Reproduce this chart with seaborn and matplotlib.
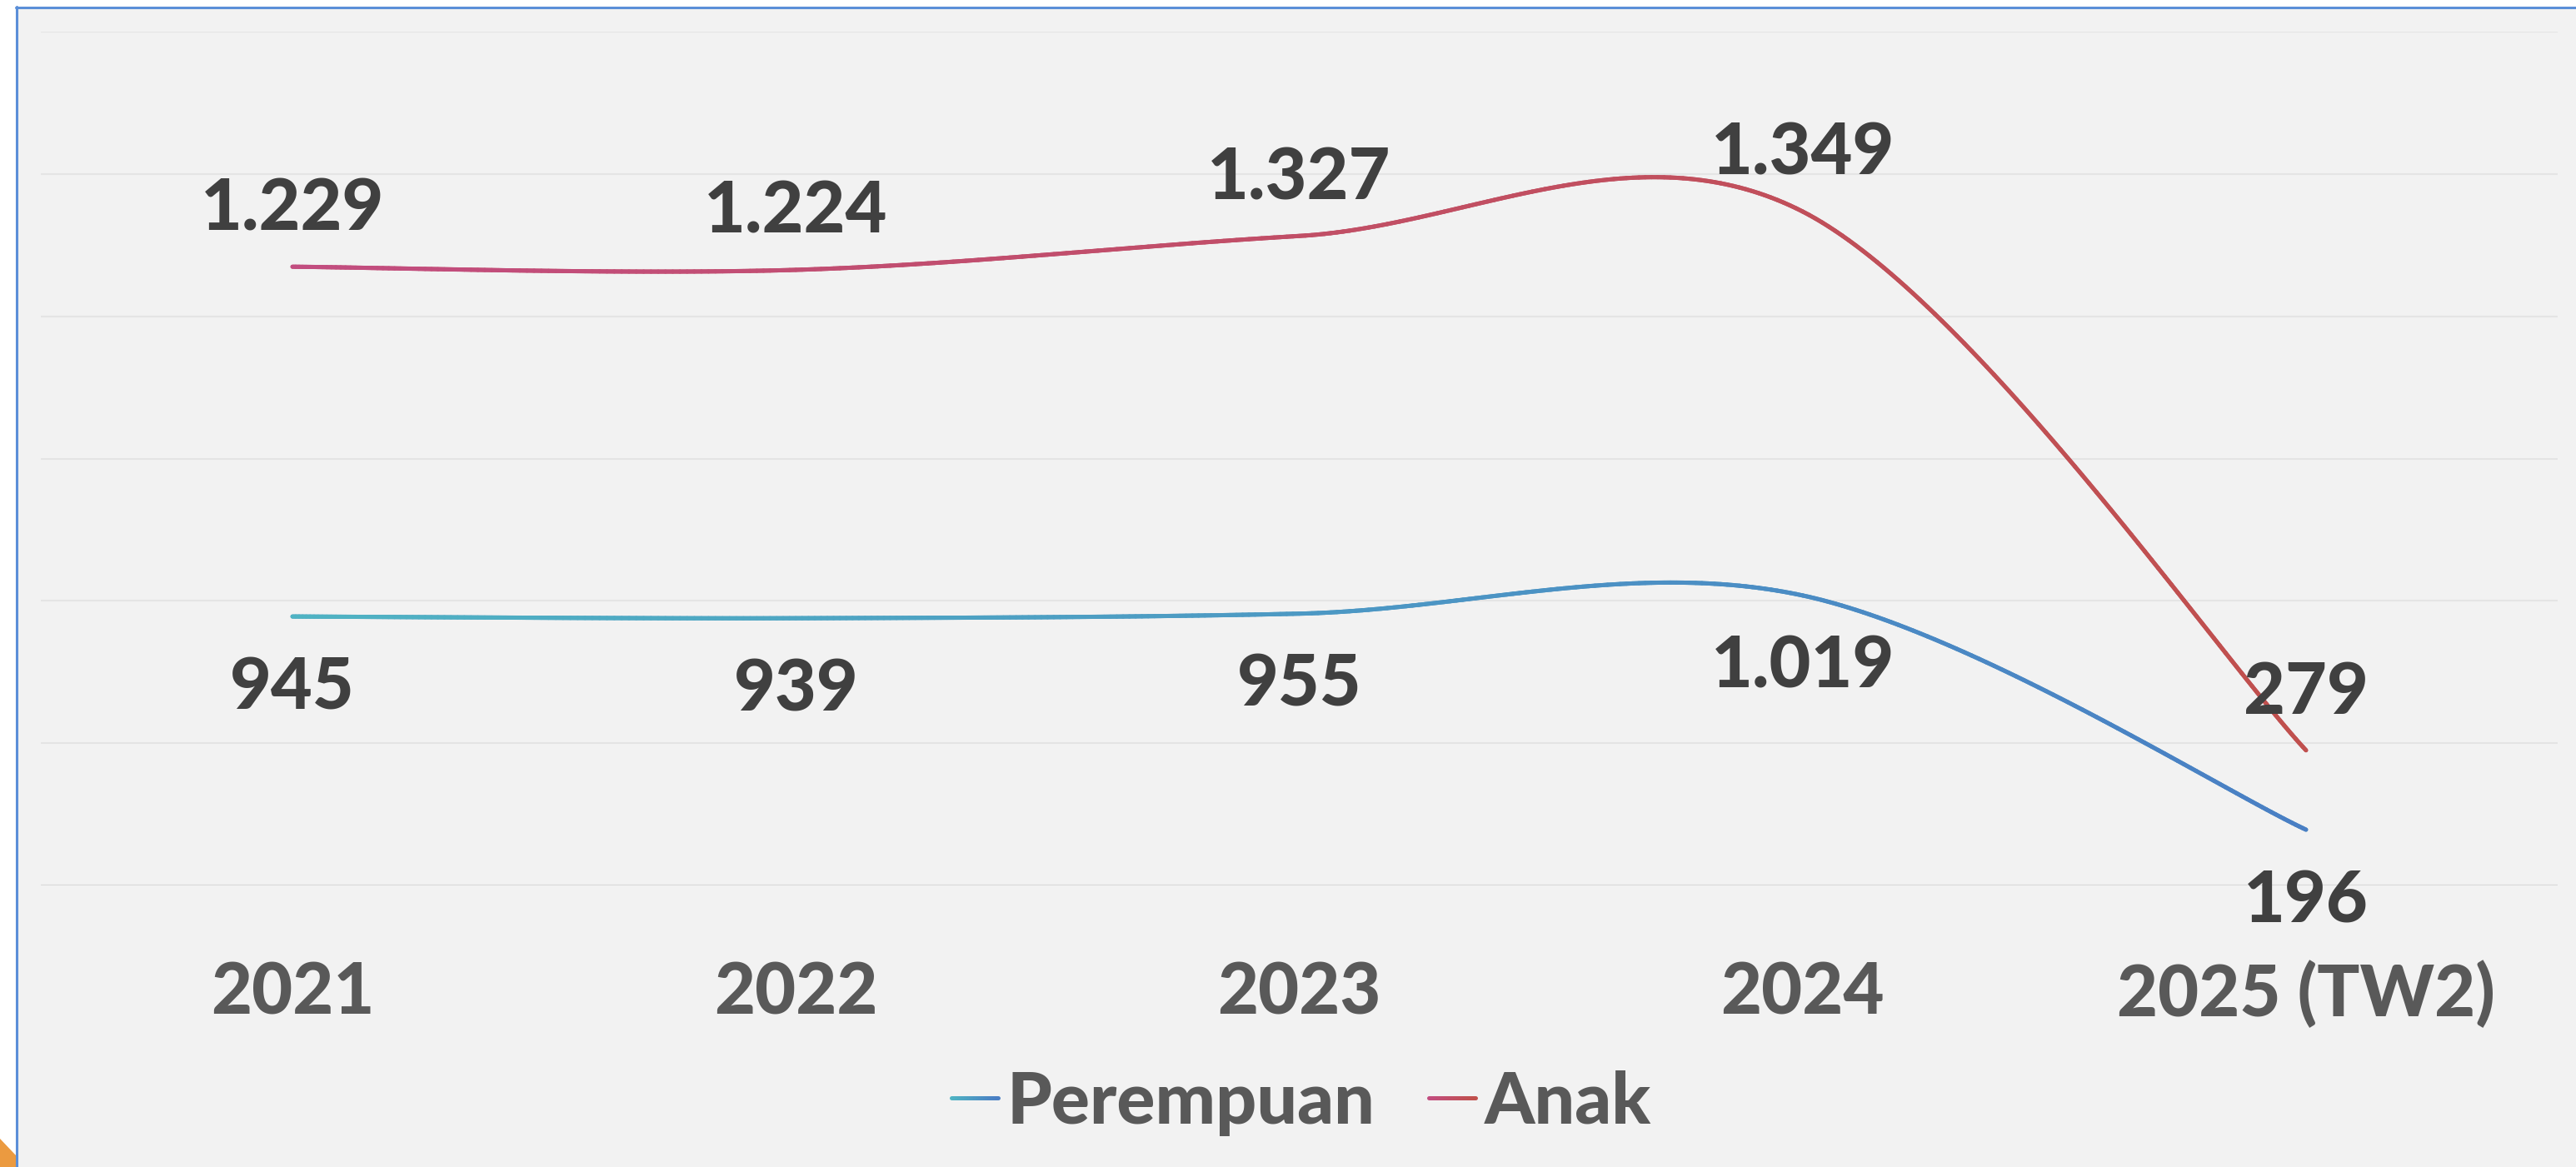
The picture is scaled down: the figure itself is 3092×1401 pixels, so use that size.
import numpy as np
import pandas as pd
import matplotlib
matplotlib.use("Agg")
import matplotlib.pyplot as plt
import seaborn as sns
from matplotlib.collections import LineCollection
from matplotlib.colors import LinearSegmentedColormap, Normalize
from matplotlib.legend_handler import HandlerBase
from matplotlib.lines import Line2D
from matplotlib.patches import Rectangle, Polygon

# data (stacked line chart, labels show the raw series values)
years = ["2021", "2022", "2023", "2024", "2025 (TW2)"]
perempuan = [945, 939, 955, 1019, 196]
anak = [1229, 1224, 1327, 1349, 279]

W, H = 3092, 1401
LW = 3.6
WEIGHT = 900
LABEL_COLOR = "#404040"
AXIS_TEXT = "#595959"

cmap_p = LinearSegmentedColormap.from_list("perempuan", ["#4fb3c3", "#4a7fc4"])
cmap_a = LinearSegmentedColormap.from_list("anak", ["#c24d80", "#c0504d"])


def smooth(y, steps=80):
    # excel style smoothed line: cubic bezier with catmull-rom control points
    pts = np.column_stack([np.arange(len(y), dtype=float), np.asarray(y, float)])
    pad = np.vstack([pts[0], pts, pts[-1]])
    out = []
    for i in range(len(pts) - 1):
        p0, p1, p2, p3 = pad[i], pad[i + 1], pad[i + 2], pad[i + 3]
        c1 = p1 + (p2 - p0) / 6
        c2 = p2 - (p3 - p1) / 6
        t = np.linspace(0, 1, steps, endpoint=(i == len(pts) - 2))[:, None]
        out.append((1 - t) ** 3 * p1 + 3 * (1 - t) ** 2 * t * c1 + 3 * (1 - t) * t ** 2 * c2 + t ** 3 * p2)
    return np.vstack(out)


class GradientHandler(HandlerBase):
    def create_artists(self, legend, orig_handle, xdescent, ydescent, width, height, fontsize, trans):
        n = 20
        xs = np.linspace(-xdescent, width - xdescent, n + 1)
        yy = height / 2 - ydescent
        segs = [[(xs[i], yy), (xs[i + 1], yy)] for i in range(n)]
        lc = LineCollection(segs, cmap=orig_handle.get_cmap(), linewidths=LW,
                            capstyle="round", transform=trans)
        lc.set_array(np.linspace(0, 1, n))
        return [lc]


sns.set_theme(style="white")
plt.rcParams["font.family"] = ["Lato", "DejaVu Sans"]

top_anak = [p + a for p, a in zip(perempuan, anak)]
curve_p = smooth(perempuan)
curve_a = smooth(top_anak)
curves = pd.concat([
    pd.DataFrame({"x": curve_p[:, 0], "y": curve_p[:, 1], "series": "Perempuan"}),
    pd.DataFrame({"x": curve_a[:, 0], "y": curve_a[:, 1], "series": "Anak"}),
])

fig = plt.figure(figsize=(W / 100, H / 100), dpi=100, facecolor="white")

# slide frame behind the chart
fig.add_artist(Rectangle((20 / W, 0), 1 - 20 / W, 1 - 8 / H, transform=fig.transFigure,
                         facecolor="#f2f2f2", edgecolor="none", zorder=-10))
fig.add_artist(Line2D([19 / W, 1], [1 - 8.5 / H, 1 - 8.5 / H], transform=fig.transFigure,
                      color="#5b8fd8", lw=2.2))
fig.add_artist(Line2D([20 / W, 20 / W], [0, 1 - 8 / H], transform=fig.transFigure,
                      color="#5b8fd8", lw=2.2))
fig.add_artist(Polygon([(0, 1 - 1367 / H), (19 / W, 1 - 1387 / H), (19 / W, 0), (0, 0)],
                       closed=True, transform=fig.transFigure, facecolor="#eb9a40",
                       edgecolor="none"))

ax = fig.add_axes([49 / W, 1 - 1063 / H, 3021 / W, 1025 / H])
ax.set_facecolor("none")

sns.lineplot(data=curves, x="x", y="y", hue="series", sort=False, estimator=None,
             palette={"Perempuan": "#4d97c2", "Anak": "#c14f66"}, lw=LW, legend=False, ax=ax)

handles = []
for crv, cmap in [(curve_p, cmap_p), (curve_a, cmap_a)]:
    segs = np.stack([crv[:-1], crv[1:]], axis=1)
    lc = LineCollection(segs, cmap=cmap, norm=Normalize(0, len(years) - 1),
                        linewidths=LW, capstyle="round", zorder=3)
    lc.set_array((crv[:-1, 0] + crv[1:, 0]) / 2)
    ax.add_collection(lc)
    handles.append(lc)

# value labels
for i in range(len(years)):
    ax.annotate(f"{anak[i]:,}".replace(",", "."), (i, top_anak[i]), xytext=(0, 31.7),
                textcoords="offset points", ha="center", va="baseline", fontsize=62,
                fontweight=WEIGHT, color=LABEL_COLOR, zorder=5)
    ax.annotate(f"{perempuan[i]:,}".replace(",", "."), (i, perempuan[i]), xytext=(0, -80),
                textcoords="offset points", ha="center", va="baseline", fontsize=62,
                fontweight=WEIGHT, color=LABEL_COLOR, zorder=5)

ax.set_xlim(-0.5, len(years) - 0.5)
ax.set_ylim(0, 3000)
ax.set_yticks(range(0, 3001, 500))
ax.set_yticklabels([])
ax.yaxis.grid(True, color="#e4e4e4", lw=1.5)
ax.axhline(0, color="#d9d9d9", lw=1.5, zorder=1)
ax.set_xticks(range(len(years)))
ax.set_xticklabels(years, fontsize=61, fontweight=WEIGHT, color=AXIS_TEXT)
ax.tick_params(axis="both", length=0)
ax.tick_params(axis="x", pad=65)
ax.set_xlabel("")
ax.set_ylabel("")
sns.despine(ax=ax, left=True, bottom=True)

fig.legend(handles=handles, labels=["Perempuan", "Anak"], handler_map={LineCollection: GradientHandler()},
           loc="center", bbox_to_anchor=(1562 / W, 1 - 1324 / H), ncol=2, frameon=False,
           prop={"weight": WEIGHT, "size": 62}, labelcolor=AXIS_TEXT,
           handlelength=0.65, handletextpad=0.12, columnspacing=0.75)

fig.savefig("out.png", dpi=100, facecolor="white")
